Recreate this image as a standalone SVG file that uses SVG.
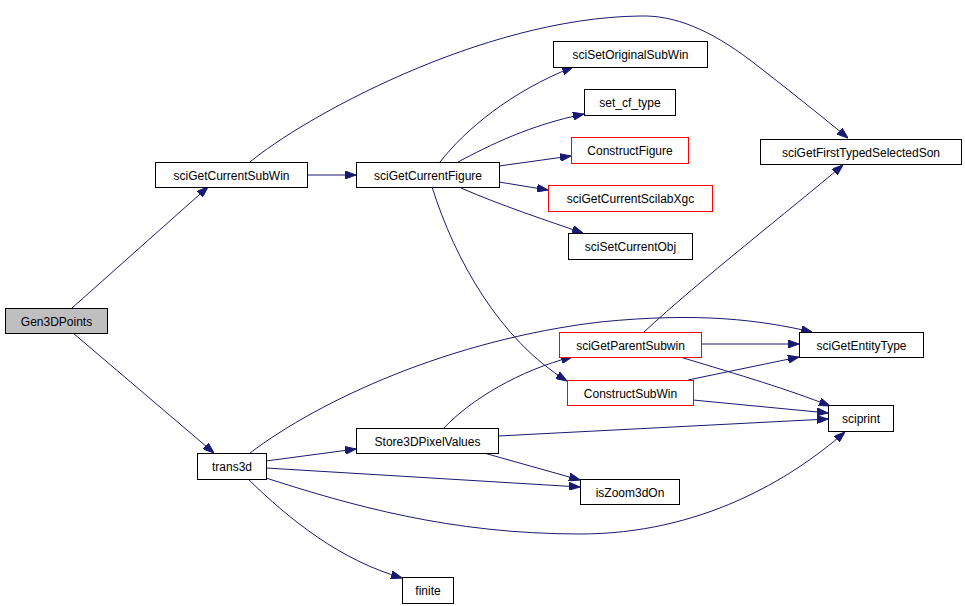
<svg xmlns="http://www.w3.org/2000/svg" width="965" height="606" viewBox="0 0 965 606">
<style>
.n rect{fill:#fff;stroke:#000;stroke-width:1}
.n.red rect{stroke:#f00}
.n.root rect{fill:#bfbfbf}
.n text{font-family:"Liberation Sans",Arial,sans-serif;font-size:12px;fill:#000;text-anchor:middle}
#edges path{fill:none;stroke:#191970;stroke-width:1;marker-end:url(#arr)}
</style>
<defs>
<marker id="arr" markerUnits="userSpaceOnUse" markerWidth="11" markerHeight="8" refX="11" refY="4" orient="auto">
<path d="M0,0 L11,4 L0,8 z" fill="#191970" stroke="#191970" stroke-width="1"/>
</marker>
</defs>
<rect width="965" height="606" fill="#fff"/>
<g id="edges">
<path d="M72,308 L208,187"/>
<path d="M73,333 L214,453"/>
<path d="M307,175 L356,175"/>
<path d="M250,162 C300,120 480,18 640,16 C675,15 710,30 750,60 C785,87 820,115 848,138"/>
<path d="M440,162 C465,130 510,92 573,67"/>
<path d="M458,162 C490,145 530,125 584,114"/>
<path d="M499,166 L571,156"/>
<path d="M499,182 L548,190"/>
<path d="M461,188 C500,205 545,220 583,233"/>
<path d="M432,187 C455,260 500,340 567,381"/>
<path d="M644,332 C700,280 790,210 843,165"/>
<path d="M701,344 L799,344"/>
<path d="M680,357 C740,375 790,390 830,406"/>
<path d="M688,380 L799,357"/>
<path d="M693,400 L828,413"/>
<path d="M498,436 L828,419"/>
<path d="M444,428 C470,400 520,370 572,357"/>
<path d="M484,453 L580,480"/>
<path d="M266,468 L580,487"/>
<path d="M266,478 C350,505 450,534 580,534 C700,534 790,480 845,432"/>
<path d="M250,453 C320,400 450,340 600,322 C700,312 760,320 812,332"/>
<path d="M248,479 C290,520 340,560 402,578"/>
<path d="M266,461 L356,449"/>
</g>
<g id="Gen3DPoints" class="n root"><rect x="5.5" y="308.5" width="102" height="25"/><text x="56.5" y="326">Gen3DPoints</text></g>
<g id="sciGetCurrentSubWin" class="n"><rect x="155.5" y="162.5" width="152" height="25"/><text x="231.5" y="180">sciGetCurrentSubWin</text></g>
<g id="sciGetCurrentFigure" class="n"><rect x="356.5" y="162.5" width="143" height="25"/><text x="428" y="180">sciGetCurrentFigure</text></g>
<g id="sciSetOriginalSubWin" class="n"><rect x="553.5" y="41.5" width="154" height="26"/><text x="630.5" y="59">sciSetOriginalSubWin</text></g>
<g id="set_cf_type" class="n"><rect x="584.5" y="89.5" width="91" height="26"/><text x="630" y="107">set_cf_type</text></g>
<g id="ConstructFigure" class="n red"><rect x="571.5" y="137.5" width="117" height="26"/><text x="630" y="155">ConstructFigure</text></g>
<g id="sciGetCurrentScilabXgc" class="n red"><rect x="548.5" y="185.5" width="164" height="26"/><text x="630.5" y="203">sciGetCurrentScilabXgc</text></g>
<g id="sciSetCurrentObj" class="n"><rect x="568.5" y="233.5" width="124" height="26"/><text x="630.5" y="251">sciSetCurrentObj</text></g>
<g id="sciGetFirstTypedSelectedSon" class="n"><rect x="760.5" y="139.5" width="201" height="25"/><text x="861" y="157">sciGetFirstTypedSelectedSon</text></g>
<g id="sciGetParentSubwin" class="n red"><rect x="559.5" y="332.5" width="142" height="25"/><text x="630.5" y="350">sciGetParentSubwin</text></g>
<g id="ConstructSubWin" class="n red"><rect x="567.5" y="380.5" width="126" height="25"/><text x="630.5" y="398">ConstructSubWin</text></g>
<g id="sciGetEntityType" class="n"><rect x="799.5" y="332.5" width="124" height="25"/><text x="861.5" y="350">sciGetEntityType</text></g>
<g id="sciprint" class="n"><rect x="828.5" y="405.5" width="65" height="26"/><text x="861" y="423">sciprint</text></g>
<g id="isZoom3dOn" class="n"><rect x="580.5" y="479.5" width="99" height="25"/><text x="630" y="497">isZoom3dOn</text></g>
<g id="trans3d" class="n"><rect x="197.5" y="453.5" width="69" height="26"/><text x="232" y="471">trans3d</text></g>
<g id="Store3DPixelValues" class="n"><rect x="356.5" y="428.5" width="142" height="25"/><text x="427.5" y="446">Store3DPixelValues</text></g>
<g id="finite" class="n"><rect x="402.5" y="577.5" width="51" height="26"/><text x="428" y="595">finite</text></g>
</svg>
